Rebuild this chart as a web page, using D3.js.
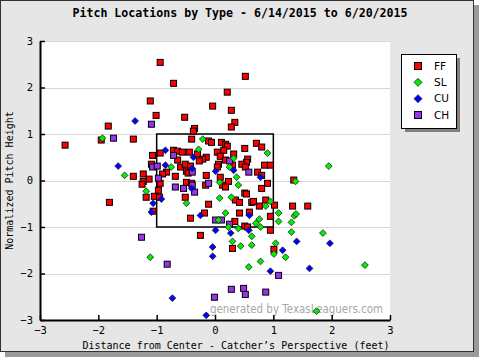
<!DOCTYPE html>
<html><head><meta charset="utf-8">
<script src="https://cdn.jsdelivr.net/npm/d3@7"></script>
<style>
html,body{margin:0;padding:0;background:#fff;}
svg{display:block;}
</style></head>
<body>
<svg id="chart" width="480" height="360"></svg>
<script>
// ---- data (x: feet from center, y: normalized height) ----
const pitchTypes = ["FF","SL","CU","CH"];
const xTicks = [-3,-2,-1,0,1,2,3];
const yTicks = [-3,-2,-1,0,1,2,3];
const ffX = [-0.94,-0.71,-1.11,-0.04,-1.01,-0.52,0.52,0.21,0.28,0.34,0.28,-1.83,-0.35,-0.37,-1.95,-1.40,-2.57,-0.40,-0.11,-0.06,0.11,0.18,0.21,0.71,0.80,0.51,0.15,0.32,0.04,-0.71,-0.64,-0.56,-0.44,-0.94,-1.07,-0.30,-0.15,-0.21,-0.64,-0.27,0.09,0.18,0.56,0.54,0.06,0.04,0.30,0.46,0.52,0.85,0.95,0.73,0.80,-1.09,-0.59,-0.51,-0.42,-0.49,-0.46,-0.83,-0.90,-0.68,-0.15,0.09,-1.40,-1.23,-1.13,-1.23,-1.25,-0.94,-0.49,-0.40,-0.16,0.23,0.13,0.18,0.90,0.80,1.35,-0.97,-1.18,-1.04,-0.95,-0.51,-1.81,-0.11,0.35,0.42,0.51,0.54,0.63,0.66,0.76,0.87,1.02,1.33,1.59,-1.06,-0.18,-0.42,0.42,0.59,0.95,0.34,0.51,0.56,0.95,-0.25,0.30,1.01];
const ffY = [2.54,2.09,1.71,1.60,1.40,1.36,2.24,1.90,1.51,1.25,1.15,1.17,1.12,1.06,0.87,0.89,0.76,0.89,0.85,0.82,0.82,0.78,0.74,0.80,0.72,0.69,0.65,0.57,0.61,0.65,0.63,0.61,0.61,0.59,0.54,0.57,0.50,0.46,0.44,0.42,0.52,0.44,0.46,0.39,0.35,0.29,0.33,0.35,0.29,0.33,0.33,0.18,0.11,0.35,0.29,0.35,0.31,0.20,0.16,0.18,0.14,0.09,0.11,0.07,0.09,0.14,0.03,-0.02,-0.08,-0.06,-0.04,-0.06,-0.10,-0.02,-0.10,-0.14,-0.06,-0.17,0.01,-0.21,-0.36,-0.34,-0.36,-0.36,-0.47,-0.51,-0.42,-0.47,-0.27,-0.29,-0.47,-0.45,-0.55,-0.42,-0.53,-0.55,-0.55,-0.66,-0.70,-0.81,-0.70,-0.68,-0.77,-0.88,-0.98,-1.00,-1.07,-1.18,-1.46,-1.48];
const slX = [-1.93,-0.21,-0.28,-0.75,-1.55,0.90,0.32,0.25,0.37,1.95,1.38,0.08,0.40,-1.18,-0.49,0.08,0.28,0.87,0.95,0.18,1.09,1.36,1.39,0.06,0.76,0.70,1.09,1.31,0.23,0.40,0.78,1.31,1.85,0.63,0.30,1.04,0.63,0.44,1.01,1.21,0.78,2.57,0.58,-1.11,1.74];
const slY = [0.91,0.89,0.67,0.29,0.11,0.59,0.48,0.29,0.07,0.31,-0.02,-0.04,-0.10,-0.23,-0.49,-0.38,-0.36,-0.55,-0.45,-0.70,-0.70,-0.76,-0.72,-0.85,-0.83,-0.92,-0.88,-0.90,-1.00,-1.03,-1.00,-1.11,-1.13,-1.20,-1.31,-1.35,-1.39,-1.41,-1.58,-1.65,-1.74,-1.82,-1.86,-1.65,-2.81];
const cuX = [-1.37,-0.85,-0.37,-1.66,-0.85,-0.39,0.01,0.32,0.78,-0.40,-0.92,-1.06,-1.09,-0.25,0.59,0.01,0.27,0.58,-0.04,-0.04,1.40,1.97,1.16,1.62,0.95,-0.73,-0.15];
const cuY = [1.28,0.65,0.50,0.31,0.33,0.26,0.20,0.22,0.07,-0.17,-0.40,-0.49,-0.68,-0.75,-0.75,-1.07,-1.13,-1.07,-1.43,-1.63,-1.31,-1.35,-1.50,-1.89,-1.95,-2.53,-2.90];
const chX = [-1.09,-1.74,-0.71,-1.07,-0.99,-0.39,-0.97,-0.68,-0.54,-0.39,-0.11,-0.35,0.25,0.58,0.01,0.11,0.25,-1.26,-0.82,1.09,0.28,0.49,0.87,0.52,-0.01];
const chY = [1.21,0.91,0.54,0.29,0.31,0.18,0.05,-0.14,-0.17,-0.10,-0.06,-0.25,0.42,0.18,-0.85,-0.85,-0.94,-1.22,-1.80,-2.04,-2.34,-2.32,-2.40,-2.45,-2.51];

const colors = {FF:"#ff0000", SL:"#00ee00", CU:"#0000ff", CH:"#9933ee"};
const shapes = {FF:"square", SL:"diamond", CU:"diamond", CH:"square"};
const seriesX = {FF:ffX, SL:slX, CU:cuX, CH:chX};
const seriesY = {FF:ffY, SL:slY, CU:cuY, CH:chY};

const svg = d3.select("#chart");
const mono = "'DejaVu Sans Mono', 'Liberation Mono', monospace";

// outer panel with shadow
svg.append("rect").attr("x",5).attr("y",5).attr("width",474).attr("height",352).attr("fill","#9a9a9a");
svg.append("rect").attr("x",0.5).attr("y",0.5).attr("width",473).attr("height",351)
  .attr("fill","#e6e6e6").attr("stroke","#333").attr("stroke-width",1);

const x = d3.scaleLinear().domain([-3,3]).range([40,390]);
const y = d3.scaleLinear().domain([-3,3]).range([320,41]);

// plot area
svg.append("rect").attr("x",x(-3)).attr("y",y(3)).attr("width",x(3)-x(-3)).attr("height",y(-3)-y(3)).attr("fill","#fff");

// gridlines
svg.append("g").selectAll("line").data(yTicks.filter(d=>d>-3)).join("line")
  .attr("x1",x(-3)).attr("x2",x(3)).attr("y1",d=>Math.round(y(d))+0.5).attr("y2",d=>Math.round(y(d))+0.5)
  .attr("stroke","#d8d8d8").attr("stroke-width",1);

// watermark
svg.append("text").attr("x",383).attr("y",313).attr("text-anchor","end")
  .attr("font-family","'DejaVu Sans', Verdana, sans-serif").attr("font-size",12.5)
  .attr("fill","#a8a8a8").attr("textLength",173).attr("lengthAdjust","spacingAndGlyphs")
  .text("generated by TexasLeaguers.com");

// strike zone
svg.append("rect").attr("x",x(-1)).attr("y",y(1)).attr("width",x(1)-x(-1)).attr("height",y(-1)-y(1))
  .attr("fill","none").attr("stroke","#000").attr("stroke-width",1.5);

// points
const diamond = r => `M0,${-r}L${r},0L0,${r}L${-r},0Z`;
const drawOrder = ["FF","CH","SL","CU"];
drawOrder.forEach(t => {
  const pts = seriesX[t].map((v,i)=>({x:v, y:seriesY[t][i]}));
  const g = svg.append("g");
  if (shapes[t]==="square") {
    g.selectAll("rect").data(pts).join("rect")
      .attr("x",d=>x(d.x)-3).attr("y",d=>y(d.y)-3).attr("width",6).attr("height",6)
      .attr("fill",colors[t]).attr("stroke","#000").attr("stroke-width",1);
  } else {
    g.selectAll("path").data(pts).join("path")
      .attr("transform",d=>`translate(${x(d.x)},${y(d.y)})`).attr("d",diamond(3.4))
      .attr("fill",colors[t]).attr("stroke","#222").attr("stroke-width",0.8);
  }
});

// axes
const fmt = d3.format("d");
const xAxis = d3.axisBottom(x).tickValues(xTicks).tickFormat(fmt).tickSizeInner(-5).tickSizeOuter(0).tickPadding(7);
const yAxis = d3.axisLeft(y).tickValues(yTicks).tickFormat(fmt).tickSizeInner(-5).tickSizeOuter(0).tickPadding(7);
const gx = svg.append("g").attr("transform",`translate(0,${y(-3)})`).call(xAxis);
const gy = svg.append("g").attr("transform",`translate(${x(-3)},0)`).call(yAxis);
[gx,gy].forEach(g=>{
  g.select(".domain").attr("stroke","#000").attr("stroke-width",2);
  g.selectAll(".tick line").attr("stroke","#000").attr("stroke-width",1.5);
  g.selectAll(".tick text").attr("font-family",mono).attr("font-size",10.5).attr("fill","#000");
});

// titles
svg.append("text").attr("x",240).attr("y",17).attr("text-anchor","middle")
  .attr("font-family",mono).attr("font-weight","bold").attr("font-size",11.6).attr("fill","#000")
  .text("Pitch Locations by Type - 6/14/2015 to 6/20/2015");
svg.append("text").attr("x",236).attr("y",349).attr("text-anchor","middle")
  .attr("font-family",mono).attr("font-size",10).attr("fill","#000")
  .text("Distance from Center - Catcher’s Perspective (feet)");
svg.append("text").attr("transform",`translate(13,${y(0)}) rotate(-90)`).attr("text-anchor","middle")
  .attr("font-family",mono).attr("font-size",10).attr("fill","#000")
  .text("Normalized Pitch Height");

// legend
const lg = svg.append("g");
lg.append("rect").attr("x",405).attr("y",58).attr("width",55).attr("height",74).attr("fill","#808080");
lg.append("rect").attr("x",401.5).attr("y",54.5).attr("width",55).attr("height",74)
  .attr("fill","#fff").attr("stroke","#000").attr("stroke-width",1);
const ly = d3.scalePoint().domain(pitchTypes).range([66,115]);
pitchTypes.forEach(t=>{
  const cy = ly(t);
  if (shapes[t]==="square") {
    lg.append("rect").attr("x",414.5).attr("y",cy-3.5).attr("width",7).attr("height",7)
      .attr("fill",colors[t]).attr("stroke","#000").attr("stroke-width",1);
  } else {
    lg.append("path").attr("transform",`translate(418,${cy})`).attr("d",diamond(4))
      .attr("fill",colors[t]).attr("stroke","#222").attr("stroke-width",0.8);
  }
  lg.append("text").attr("x",434).attr("y",cy).attr("dy","0.35em")
    .attr("font-family","'DejaVu Sans', sans-serif").attr("font-size",10.5).attr("fill","#000").text(t);
});
</script>
</body></html>
